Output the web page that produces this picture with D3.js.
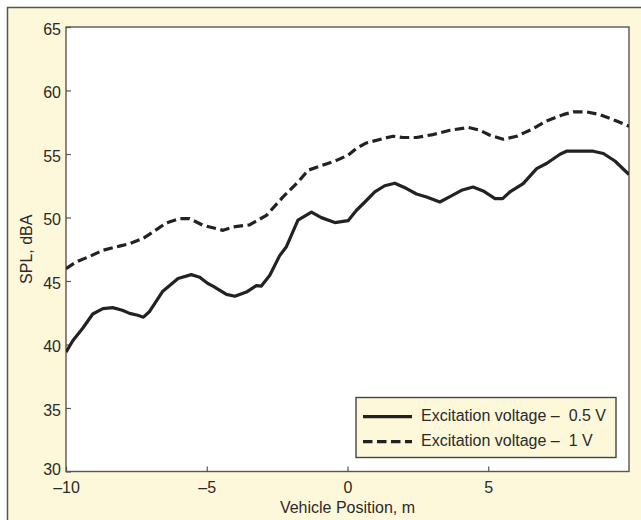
<!DOCTYPE html>
<html>
<head>
<meta charset="utf-8">
<script src="https://cdn.jsdelivr.net/npm/d3@7"></script>
<style>
  html, body { margin: 0; padding: 0; background: #ffffff; }
  svg { display: block; }
  text { font-family: "Liberation Sans", Arial, Helvetica, sans-serif; fill: #2a2a2a; }
</style>
</head>
<body>
<svg id="chart" width="641" height="520"></svg>
<script>
// ---- Data ----
const xTicks = [-10, -5, 0, 5];
const yTicks = [30, 35, 40, 45, 50, 55, 60, 65];

const seriesNames = ["Excitation voltage \u2013  0.5 V", "Excitation voltage \u2013  1 V"];

const posHalfV = [-10, -9.76, -9.4, -9.05, -8.69, -8.34, -8.0, -7.74, -7.45, -7.25, -7.03, -6.56, -6.02, -5.55, -5.25, -4.96, -4.78, -4.3, -4.0, -3.59, -3.24, -3.06, -2.76, -2.41, -2.17, -1.76, -1.28, -0.93, -0.45, 0.02, 0.32, 0.61, 0.97, 1.32, 1.68, 2.1, 2.45, 2.81, 3.28, 3.64, 4.05, 4.46, 4.82, 5.24, 5.51, 5.77, 6.24, 6.72, 7.07, 7.55, 7.78, 8.73, 9.09, 9.5, 10.0];
const splHalfV = [39.4, 40.3, 41.3, 42.4, 42.82, 42.9, 42.7, 42.45, 42.3, 42.15, 42.6, 44.2, 45.2, 45.5, 45.3, 44.8, 44.6, 43.95, 43.8, 44.13, 44.63, 44.6, 45.45, 47.0, 47.7, 49.8, 50.43, 49.99, 49.6, 49.75, 50.57, 51.2, 52.01, 52.5, 52.7, 52.28, 51.85, 51.62, 51.22, 51.65, 52.14, 52.4, 52.09, 51.49, 51.49, 52.01, 52.67, 53.85, 54.25, 54.98, 55.22, 55.22, 55.04, 54.45, 53.38];

const posOneV = [-10, -9.64, -9.16, -8.69, -8.1, -7.74, -7.27, -6.91, -6.44, -5.96, -5.61, -5.14, -4.42, -4.07, -3.48, -2.88, -2.29, -1.7, -1.4, -0.99, -0.39, 0.02, 0.32, 0.67, 1.26, 1.62, 1.98, 2.45, 3.04, 3.64, 4.29, 4.7, 5.06, 5.53, 6.01, 6.6, 7.07, 7.66, 8.02, 8.5, 8.97, 9.56, 10.0];
const splOneV = [45.97, 46.5, 46.94, 47.42, 47.75, 47.94, 48.34, 48.86, 49.57, 49.91, 49.91, 49.39, 48.99, 49.25, 49.42, 50.17, 51.62, 52.93, 53.72, 54.03, 54.5, 54.9, 55.45, 55.87, 56.21, 56.4, 56.3, 56.3, 56.53, 56.87, 57.09, 56.87, 56.48, 56.16, 56.4, 57.0, 57.6, 58.1, 58.31, 58.31, 58.1, 57.6, 57.19];

// ---- Layout ----
const cream = "#fef8da";
const ink = "#222222";
const fs = 16;
const svg = d3.select("#chart");
const plot = { left: 66, top: 27, right: 629, bottom: 471.5 };

// outer panel
svg.append("rect").attr("x", 0).attr("y", 0).attr("width", 641).attr("height", 520).attr("fill", "#ffffff");
svg.append("rect").attr("x", 7.5).attr("y", 7.5).attr("width", 641).attr("height", 520)
  .attr("fill", cream).attr("stroke", "#555555").attr("stroke-width", 1.5);

const x = d3.scaleLinear().domain([-10, 10]).range([plot.left, plot.right]);
const y = d3.scaleLinear().domain([30, 65]).range([plot.bottom, plot.top]);

// plot background
svg.append("rect").attr("x", plot.left).attr("y", plot.top)
  .attr("width", plot.right - plot.left).attr("height", plot.bottom - plot.top)
  .attr("fill", "#ffffff");

svg.append("clipPath").attr("id", "clip").append("rect")
  .attr("x", plot.left).attr("y", plot.top)
  .attr("width", plot.right - plot.left).attr("height", plot.bottom - plot.top);

// axes (inward ticks)
const yAxis = d3.axisLeft(y).tickValues(yTicks).tickSizeInner(-5).tickSizeOuter(0).tickPadding(5)
  .tickFormat(d3.format("d"));
const gy = svg.append("g").attr("transform", `translate(${plot.left},0)`).call(yAxis);
gy.select(".domain").remove();
gy.selectAll(".tick line").attr("stroke", "#555555").attr("stroke-width", 1.2);
gy.selectAll(".tick text").attr("font-size", fs).attr("dy", d => d === 30 ? "0.2em" : "0.45em")
  .attr("font-family", "'Liberation Sans', Arial, sans-serif").attr("fill", "#2a2a2a");

const xAxis = d3.axisBottom(x).tickValues(xTicks).tickSizeInner(-5).tickSizeOuter(0).tickPadding(10)
  .tickFormat(d => d < 0 ? "\u2013" + Math.abs(d) : String(d));
const gx = svg.append("g").attr("transform", `translate(0,${plot.bottom})`).call(xAxis);
gx.select(".domain").remove();
gx.selectAll(".tick line").attr("stroke", "#555555").attr("stroke-width", 1.2);
gx.selectAll(".tick text").attr("font-size", fs).attr("dy", "0.71em")
  .attr("font-family", "'Liberation Sans', Arial, sans-serif").attr("fill", "#2a2a2a");

// plot border
svg.append("rect").attr("x", plot.left).attr("y", plot.top)
  .attr("width", plot.right - plot.left).attr("height", plot.bottom - plot.top)
  .attr("fill", "none").attr("stroke", "#555555").attr("stroke-width", 1.4);

// lines
const line = d3.line().x(d => x(d[0])).y(d => y(d[1])).curve(d3.curveLinear);
const dataHalf = posHalfV.map((p, i) => [p, splHalfV[i]]);
const dataOne = posOneV.map((p, i) => [p, splOneV[i]]);

const lines = svg.append("g").attr("clip-path", "url(#clip)");
lines.append("path").datum(dataOne).attr("d", line)
  .attr("fill", "none").attr("stroke", ink).attr("stroke-width", 3.2)
  .attr("stroke-dasharray", "9.5,4.5").attr("stroke-linejoin", "round");
lines.append("path").datum(dataHalf).attr("d", line)
  .attr("fill", "none").attr("stroke", ink).attr("stroke-width", 3.2)
  .attr("stroke-linejoin", "round");

// axis titles
svg.append("text").attr("x", (plot.left + plot.right) / 2).attr("y", 513)
  .attr("text-anchor", "middle").attr("font-size", fs).text("Vehicle Position, m");
svg.append("text").attr("transform", `translate(32,${(plot.top + plot.bottom) / 2}) rotate(-90)`)
  .attr("text-anchor", "middle").attr("font-size", fs).text("SPL, dBA");

// legend
const lg = svg.append("g");
lg.append("rect").attr("x", 356).attr("y", 397.5).attr("width", 260).attr("height", 60)
  .attr("fill", cream).attr("stroke", "#444444").attr("stroke-width", 1.4);
const dashes = [null, "9.5,4.5"];
seriesNames.forEach((name, i) => {
  const yy = 416.7 + i * 25;
  const l = lg.append("line").attr("x1", 363).attr("x2", 412).attr("y1", yy).attr("y2", yy)
    .attr("stroke", ink).attr("stroke-width", 3.2);
  if (dashes[i]) l.attr("stroke-dasharray", dashes[i]);
  lg.append("text").attr("x", 421).attr("y", yy + 4.5).attr("font-size", fs)
    .style("white-space", "pre").attr("xml:space", "preserve").text(name);
});
</script>
</body>
</html>
